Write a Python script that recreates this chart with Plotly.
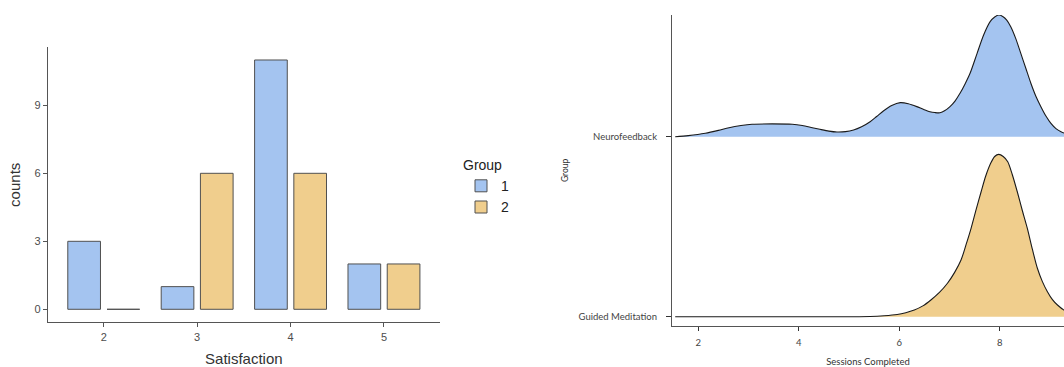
import plotly.graph_objects as go

# ---------------- data ----------------
satisfaction = ["2", "3", "4", "5"]
group1_counts = [3, 1, 11, 2]
group2_counts = [0, 6, 6, 2]
group_names = ["1", "2"]

# ridgeline density heights (in ridge units)
nf_x = [1.54, 1.8, 2.14, 2.4, 2.61, 2.85, 3.07, 3.47, 3.87, 4.07, 4.27, 4.42, 4.60, 4.76,
        4.93, 5.09, 5.25, 5.42, 5.55, 5.69, 5.85, 6.02, 6.18, 6.35, 6.48, 6.61, 6.71, 6.81,
        6.91, 7.01, 7.11, 7.21, 7.31, 7.41, 7.55, 7.68, 7.81, 7.90, 7.98, 8.06, 8.14, 8.22,
        8.32, 8.42, 8.52, 8.62, 8.72, 8.82, 8.92, 9.02, 9.12, 9.22, 9.35, 9.5, 9.8]
nf_h = [0.0, 0.006, 0.019, 0.035, 0.05, 0.062, 0.069, 0.071, 0.069, 0.062, 0.05, 0.041, 0.031, 0.026,
        0.028, 0.037, 0.055, 0.083, 0.112, 0.144, 0.173, 0.189, 0.183, 0.167, 0.152, 0.139, 0.134, 0.133,
        0.145, 0.167, 0.198, 0.241, 0.293, 0.352, 0.463, 0.565, 0.639, 0.665, 0.676, 0.668, 0.648, 0.611,
        0.545, 0.463, 0.38, 0.297, 0.225, 0.167, 0.115, 0.074, 0.045, 0.028, 0.014, 0.006, 0.0]

gm_x = [1.54, 2.5, 3.5, 4.5, 5.0, 5.42, 5.7, 5.96, 6.13, 6.30, 6.47, 6.63, 6.80, 6.96, 7.10,
        7.23, 7.33, 7.43, 7.53, 7.63, 7.72, 7.82, 7.90, 7.98, 8.07, 8.16, 8.25, 8.35, 8.45,
        8.55, 8.65, 8.75, 8.85, 8.95, 9.05, 9.15, 9.28, 9.5, 9.8]
gm_h = [0.0, 0.0, 0.0, 0.0, 0.0, 0.001, 0.005, 0.012, 0.022, 0.037, 0.06, 0.093, 0.135, 0.186, 0.245,
        0.315, 0.40, 0.491, 0.595, 0.694, 0.78, 0.852, 0.89, 0.902, 0.89, 0.861, 0.79, 0.694, 0.59,
        0.491, 0.375, 0.269, 0.195, 0.139, 0.095, 0.065, 0.037, 0.012, 0.0]

ridge_names = ["Guided Meditation", "Neurofeedback"]
ridge_levels = [1, 2]
x_ticks = [2, 4, 6, 8]

# ---------------- style ----------------
BLUE = "#A4C4F0"
TAN = "#F0CE8D"
OUTLINE = "#505050"
AXIS = "#555555"
W, H = 1064, 367


def px_x(p):
    return p / W


def px_y(p):
    return (H - p) / H


fig = go.Figure()

# ---- left: grouped bar chart ----
fig.add_trace(go.Bar(x=satisfaction, y=group1_counts, name=group_names[0],
                     marker=dict(color=BLUE, line=dict(color=OUTLINE, width=1)),
                     xaxis="x", yaxis="y", hoverinfo="skip"))
fig.add_trace(go.Bar(x=satisfaction, y=group2_counts, name=group_names[1],
                     marker=dict(color=TAN, line=dict(color=OUTLINE, width=1)),
                     xaxis="x", yaxis="y", hoverinfo="skip"))

# ---- right: ridgelines ----
ridges = [(nf_x, nf_h, ridge_levels[1], BLUE), (gm_x, gm_h, ridge_levels[0], TAN)]
for xs, hs, lvl, col in ridges:
    fig.add_trace(go.Scatter(x=xs, y=[lvl] * len(xs), mode="lines",
                             line=dict(width=0, color=col), showlegend=False,
                             xaxis="x2", yaxis="y2", hoverinfo="skip"))
    fig.add_trace(go.Scatter(x=xs, y=[lvl + h for h in hs], mode="lines",
                             line=dict(color="#1a1a1a", width=1.1, shape="spline", smoothing=0.8),
                             fill="tonexty", fillcolor=col, showlegend=False,
                             xaxis="x2", yaxis="y2", hoverinfo="skip"))

left_font = "Liberation Sans, Arial, sans-serif"
right_font = "Lato, Open Sans, sans-serif"

fig.update_layout(
    width=W, height=H,
    margin=dict(l=0, r=0, t=0, b=0),
    paper_bgcolor="white", plot_bgcolor="white",
    barmode="group", bargap=0.16, bargroupgap=0.167,
    font=dict(family=left_font),
    legend=dict(title=dict(text="Group", font=dict(size=14, color="#222222")),
                x=px_x(461), y=px_y(152), xanchor="left", yanchor="top",
                font=dict(size=14, color="#222222"), tracegroupgap=0, traceorder="normal",
                itemwidth=30, bgcolor="rgba(0,0,0,0)"),
    xaxis=dict(domain=[px_x(47.7), px_x(440)], range=[-0.6, 3.6], type="category",
               showline=True, linecolor=AXIS, linewidth=1, ticks="outside", ticklen=4,
               tickcolor=AXIS, showgrid=False, zeroline=False,
               tickfont=dict(size=11, color="#4D4D4D"),
               title=dict(text="Satisfaction", font=dict(size=15, color="#333333"), standoff=15),
               anchor="y"),
    yaxis=dict(domain=[px_y(322.3), px_y(47.3)], range=[-0.574, 11.56],
               tickvals=[0, 3, 6, 9], showline=True, linecolor=AXIS, linewidth=1,
               ticks="outside", ticklen=4, tickcolor=AXIS, showgrid=False, zeroline=False,
               tickfont=dict(size=11, color="#4D4D4D"),
               title=dict(text="counts", font=dict(size=15, color="#333333"), standoff=10),
               anchor="x"),
    xaxis2=dict(domain=[px_x(672), 1.0], range=[1.476, 9.28], tickvals=x_ticks,
                showline=True, linecolor=AXIS, linewidth=1.2, ticks="outside", ticklen=4,
                tickcolor="#333333", showgrid=False, zeroline=False, ticklabelstandoff=4,
                tickfont=dict(size=9.5, color="#444444", family=right_font),
                title=dict(text="Sessions Completed", font=dict(size=9.5, color="#333333", family=right_font),
                           standoff=12),
                anchor="y2"),
    yaxis2=dict(domain=[px_y(325.7), px_y(15)], range=[0.95, 2.676],
                tickvals=ridge_levels, ticktext=ridge_names,
                showline=True, linecolor=AXIS, linewidth=1.2, ticks="outside", ticklen=5,
                tickcolor="#333333", showgrid=False, zeroline=False, ticklabelstandoff=7,
                tickfont=dict(size=9.5, color="#444444", family=right_font),
                title=dict(text="Group", font=dict(size=8.5, color="#333333", family=right_font),
                           standoff=8),
                anchor="x2"),
)

fig.write_html("out.html")
